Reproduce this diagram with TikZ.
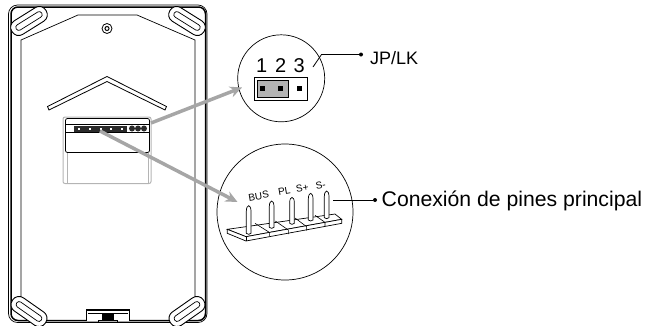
\documentclass[tikz,border=0pt]{standalone}
\usepackage{xcolor}
\usepackage{fontspec}
\setmainfont{Liberation Sans}
\usetikzlibrary{
		arrows.meta,
		calc,
		positioning
	}
\definecolor{arrowgray}{HTML}{A6A6A6}
\definecolor{linkgray}{HTML}{B4B4B4}
\definecolor{pindark}{HTML}{2B2B2B}
\tikzset{
		>=stealth,
		earouter/.style={draw,fill=white,line width=0.9pt,rounded corners=7.5pt,minimum width=40pt,minimum height=16pt,inner sep=0pt},
		earslot/.style={draw,line width=0.7pt,rounded corners=2.8pt,minimum width=30pt,minimum height=6pt,inner sep=0pt},
		zoomring/.style={circle,draw,line width=0.7pt,inner sep=0pt},
		callout/.style={arrowgray,line width=3.5pt,-{Stealth[length=12pt,width=11pt]}},
		leaderline/.style={line width=0.8pt},
		leaderdot/.style={circle,fill=black,inner sep=0pt,minimum size=4pt},
		pinlabel/.style={font=\fontsize{10}{11}\selectfont,inner sep=0pt,rotate=10},
		jumperdigit/.style={font=\fontsize{20}{21}\selectfont,inner sep=0pt,anchor=base},
		pinshaft/.style={draw,fill=white,line width=0.7pt}
	}
\begin{document}
\begin{tikzpicture}[x=1pt,y=-1pt]
          \useasboundingbox (0,0) rectangle (650,325);

          % housing
          \draw[line width=0.7pt,rounded corners=9pt] (8.5,5) rectangle (207,322.5);
          \draw[line width=1.5pt,rounded corners=7pt] (11,7) rectangle (205.5,320.5);
          \draw[line width=0.7pt] (21,297) -- (21,40) -- (78,15) -- (137,15) -- (195,40) -- (195,297);

          % corner ears
          \foreach \xpos/\ypos/\ang in {29/21/32,187/21/-32,29/311.5/-35,187/311.5/35}{
            \node[earouter,rotate=\ang] at (\xpos,\ypos) {};
            \node[earslot,rotate=\ang] at (\xpos,\ypos) {};
          }

          % screw
          \draw[line width=0.8pt] (107,28.5) circle (5);
          \draw[line width=1pt] (107,28.5) circle (2);

          % roof mark
          \draw[line width=0.8pt] (47.5,106.5) -- (107,76.5) -- (166.5,106.5) -- (165,110) -- (107,81.5) -- (49,110) -- cycle;

          % module
          \draw[linkgray,line width=0.8pt] (67,153) -- (67,183);
          \draw[linkgray,line width=0.8pt] (148.5,153) -- (148.5,183);
          \draw[linkgray,line width=1pt,rounded corners=2pt] (63,153) -- (63,183.5) -- (151,183.5) -- (151,153);
          \draw[linkgray,line width=1pt,rounded corners=2pt] (63,153) -- (63,117) -- (151,117) -- (151,153);
          \draw[line width=0.8pt,rounded corners=2pt] (65.5,124) -- (65.5,118.5) -- (149.5,118.5) -- (149.5,152.5) -- (65.5,152.5) -- (65.5,124);
          \draw[line width=0.7pt] (65.5,124.5) -- (149.5,124.5);
          \draw[line width=0.9pt] (65.5,132.5) -- (149.5,132.5);
          \fill[pindark] (74,125.5) rectangle (127,131.5);
          \foreach \xpos in {79,89.5,100.5,111,122}{
            \fill[white] (\xpos-1,127.5) rectangle (\xpos+1,129.5);
          }
          \foreach \xpos in {132,138,144}{
            \fill[pindark] (\xpos,128.5) circle (3);
          }

          % bottom clip
          \draw[line width=1.2pt,fill=white] (86.5,321) -- (86.5,310) -- (129.5,310) -- (129.5,321);
          \draw[line width=0.7pt] (88,313) -- (128,313);
          \fill[black] (102,314) rectangle (114,319.5);
          \draw[line width=0.7pt,fill=linkgray] (98.5,322) -- (98.5,320) -- (117.5,320) -- (117.5,322);

          % zoom circles
          \node[zoomring,minimum size=87pt] (jpring) at (281.2,78.3) {};
          \node[zoomring,minimum size=136pt] (pinring) at (285,212) {};

          % callout arrows
          \coordinate (jpsource) at (151,123);
          \coordinate (jptarget) at (242,87.5);
          \coordinate (pinsource) at (100,131);
          \coordinate (pintarget) at (237.5,202);
          \draw[callout] (jpsource) -- (jptarget);
          \draw[callout] (pinsource) -- (pintarget);

          % jumper detail
          \node[jumperdigit] (jpone) at (261.7,72.7) {1};
          \node[jumperdigit] (jptwo) at (280.7,72.7) {2};
          \node[jumperdigit] (jpthree) at (299.3,72.7) {3};
          \draw[line width=0.7pt] (254,77.5) rectangle (307.5,100);
          \draw[line width=0.7pt,fill=linkgray] (257,80.5) rectangle (288.5,97);
          \foreach \xpos in {262.3,280.3,299}{
            \fill[black] (\xpos-2.5,86) rectangle (\xpos+2.5,91);
          }

          % jumper leader
          \coordinate (jpbend) at (321.5,54.5);
          \coordinate (jpfoot) at (313,67);
          \node[leaderdot] (jpdot) at (361,54.5) {};
          \node[anchor=base west,inner sep=0pt,font=\fontsize{18}{19}\selectfont] (jplabel) at (370,64.5) {JP/LK};
          \draw[leaderline] (jpfoot) -- (jpbend) -- (jpdot);

          % pin strip
          \begin{scope}[shift={(220,140)},scale=1/3]
            \draw[line width=0.7pt,fill=white] (22,268) -- (345,222) -- (365,238) -- (78,290) -- cycle;
            \draw[line width=0.7pt,fill=white] (22,268) -- (22,280) -- (78,303) -- (365,250) -- (365,238) -- (78,290) -- cycle;
            \draw[line width=0.6pt] (78,290) -- (78,303);
            \foreach \ax/\ay/\bx/\by in {105/250/148/277,166/243/205/270,225/234/260/260,285/226/315/247}{
              \draw[line width=0.6pt] (\ax,\ay) -- (\bx,\by) -- (\bx,\by+12);
            }
            \foreach \xpos/\ytop/\ybot in {86/197/280,155/183/262,216/172/250,272/160/240,320/153/233}{
              \draw[pinshaft] (\xpos-7,\ybot) -- (\xpos-7,\ytop+16) .. controls (\xpos-7,\ytop+6) and (\xpos-3,\ytop) .. (\xpos,\ytop)
                .. controls (\xpos+3,\ytop) and (\xpos+7,\ytop+6) .. (\xpos+7,\ytop+16) -- (\xpos+7,\ybot)
                .. controls (\xpos+4,\ybot+4) and (\xpos-4,\ybot+4) .. (\xpos-7,\ybot);
            }
          \end{scope}
          \node[pinlabel] (busname) at (258.7,196) {BUS};
          \node[pinlabel] (plname) at (284.3,191.5) {PL};
          \node[pinlabel] (spname) at (302.3,187.7) {S+};
          \node[pinlabel] (snname) at (320.7,185) {S-};

          % pin leader
          \coordinate (pinfoot) at (333,200);
          \node[leaderdot] (pindot) at (375,200) {};
          \node[anchor=base west,inner sep=0pt,font=\fontsize{21.2}{23}\selectfont] (pinlabel) at (381.5,206) {Conexión de pines principal};
          \draw[leaderline] (pinfoot) -- (pindot);

          \end{tikzpicture}
\end{document}
